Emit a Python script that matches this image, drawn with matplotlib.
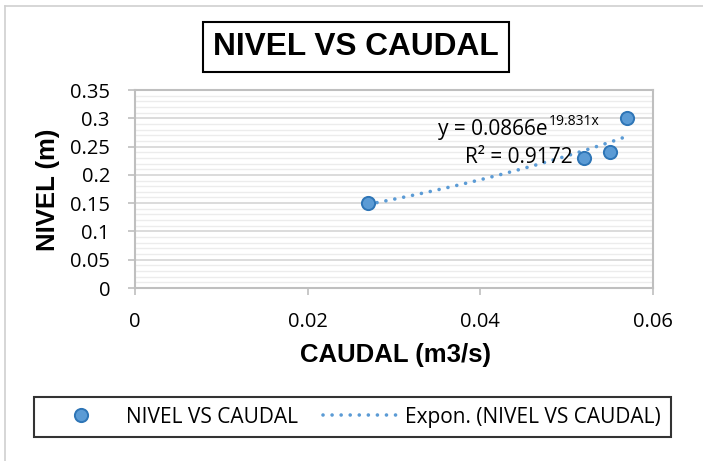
import numpy as np
import matplotlib
matplotlib.use("Agg")
import matplotlib.pyplot as plt
from matplotlib.lines import Line2D

# Data
caudal = [0.027, 0.052, 0.055, 0.057]
nivel = [0.15, 0.23, 0.24, 0.30]
fit_a = 0.0866
fit_b = 19.831
r2 = 0.9172
x_ticks = [0, 0.02, 0.04, 0.06]
y_ticks = [0, 0.05, 0.1, 0.15, 0.2, 0.25, 0.3, 0.35]
x_tick_labels = ["0", "0.02", "0.04", "0.06"]
y_tick_labels = ["0", "0.05", "0.1", "0.15", "0.2", "0.25", "0.3", "0.35"]
title = "NIVEL VS CAUDAL"
x_label = "CAUDAL (m3/s)"
y_label = "NIVEL (m)"
series_name = "NIVEL VS CAUDAL"
trend_name = "Expon. (NIVEL VS CAUDAL)"
eq_main = "y = 0.0866e"
eq_sup = "19.831x"
r2_text = "R² = 0.9172"

W, H = 703, 461
fig = plt.figure(figsize=(W / 100, H / 100), dpi=100)
fig.patch.set_facecolor("white")

# outer chart border (left + top visible)
fig.add_artist(Line2D([5 / W, 5 / W], [0, 1 - 6 / H], color="#d0d0d0", lw=1.2, transform=fig.transFigure))
fig.add_artist(Line2D([5 / W, 1], [1 - 6 / H, 1 - 6 / H], color="#d0d0d0", lw=1.2, transform=fig.transFigure))

ax = fig.add_axes([135 / W, 1 - 288 / H, (653 - 135) / W, (288 - 90) / H])

body = "Open Sans"
bold = "Liberation Sans"
blue = "#5B9BD5"
edge = "#2E75B6"
dot_style = (0, (0.01, 2.5))

ax.set_xlim(0, 0.06)
ax.set_ylim(0, 0.35)
ax.set_xticks(x_ticks)
ax.set_xticklabels(x_tick_labels, fontsize=14.5, family=body)
ax.set_yticks(y_ticks)
ax.set_yticklabels(y_tick_labels, fontsize=14.5, family=body)
ax.set_yticks(np.arange(0, 0.351, 0.01), minor=True)
ax.tick_params(axis="both", which="major", length=5, color="#bfbfbf", width=1.2)
ax.tick_params(axis="x", which="major", pad=12.5)
ax.tick_params(axis="y", which="major", pad=13)
ax.tick_params(axis="y", which="minor", length=0)
ax.grid(True, which="minor", axis="y", color="#ececec", lw=1.0)
ax.grid(True, which="major", axis="y", color="#d9d9d9", lw=1.3)
ax.set_axisbelow(True)
for s in ax.spines.values():
    s.set_color("#bfbfbf")
    s.set_linewidth(1.5)

# trendline
xs = np.linspace(min(caudal), max(caudal), 100)
ax.plot(xs, fit_a * np.exp(fit_b * xs), linestyle=dot_style, color=blue, lw=2.6,
        dash_capstyle="round", zorder=3)
ax.plot(caudal, nivel, "o", ms=9.5, mfc=blue, mec=edge, mew=1.4, zorder=4)

t1 = ax.text(0.0351, 0.2705, eq_main, fontsize=15, family=body, ha="left", va="baseline", zorder=5)
ax.annotate(eq_sup, xy=(1, 0), xycoords=t1, xytext=(0.5, 10.5), textcoords="offset points",
            fontsize=10, family=body, ha="left", va="baseline", zorder=5)
ax.text(0.0382, 0.221, r2_text, fontsize=15, family=body, ha="left", va="baseline", zorder=5)

fig.text(395.5 / W, 1 - 355 / H, x_label, fontsize=18.5, fontweight="bold", family=bold,
         ha="center", va="center")
fig.text(48 / W, 1 - 190 / H, y_label, fontsize=18.5, fontweight="bold", family=bold,
         ha="center", va="center", rotation=90)

# title box
fig.text(356 / W, 1 - 47 / H, title, fontsize=22.8, fontweight="bold", family=bold,
         ha="center", va="center",
         bbox=dict(boxstyle="square,pad=0.33", fc="white", ec="black", lw=1.5))

# legend
leg_handles = [
    Line2D([], [], marker="o", ls="none", ms=9.5, mfc=blue, mec=edge, mew=1.4),
    Line2D([], [], linestyle=dot_style, color=blue, lw=2.6, dash_capstyle="round"),
]
leg = fig.legend(leg_handles, [series_name, trend_name], loc="center",
                 bbox_to_anchor=(352.5 / W, 1 - 417 / H), ncol=2,
                 prop={"family": body, "size": 15}, frameon=True, fancybox=False,
                 edgecolor="black", handlelength=3.6, columnspacing=1.2, handletextpad=0.35,
                 borderpad=0.45, borderaxespad=0)
leg.get_frame().set_linewidth(1.5)

fig.savefig("out.png", dpi=100, facecolor="white")
